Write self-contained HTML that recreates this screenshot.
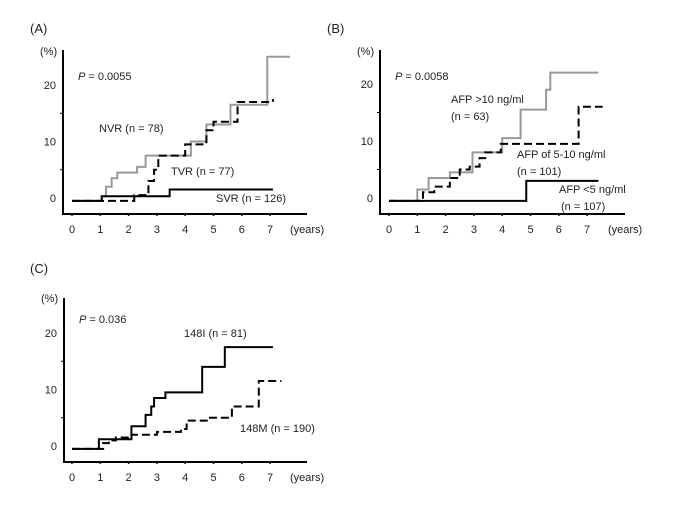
<!DOCTYPE html>
<html><head><meta charset="utf-8"><style>
body{margin:0;background:#fff}
svg{display:block;font-family:"Liberation Sans",sans-serif}
</style></head><body>
<svg id="chart" width="685" height="513" viewBox="0 0 685 513"></svg>
<script>
const yearTicks=[0,1,2,3,4,5,6,7];
const pctTicks=[0,10,20];
// Panel A
const nvrT=[0,1.05,1.2,1.4,1.6,2.3,2.6,4.2,4.75,5.6,6.9,7.7];
const nvrV=[-0.5,0.3,2,3.5,4.5,5.5,7.5,10,13,16.5,25,25];
const tvrT=[0,2.2,2.7,2.9,3.05,4.0,4.75,5.0,5.85,7.1];
const tvrV=[-0.5,0.5,3,5,7.5,9.5,12,13.5,17,17.5];
const svrT=[0,1.05,3.45,7.1];
const svrV=[-0.5,0.3,1.5,1.5];
// Panel B
const hiT=[0,1.0,1.4,2.15,2.95,4.0,4.65,5.55,5.7,7.4];
const hiV=[-0.5,1.5,3.5,4.5,8,10.5,15.5,19,22,22];
const midT=[0,1.2,1.6,2.15,2.5,2.85,3.2,3.4,3.95,6.7,7.55];
const midV=[-0.5,1,2,3.5,5,5.5,7,8,9.5,16,16];
const loT=[0,4.85,7.4];
const loV=[-0.5,3,3];
// Panel C
const iT=[0,0.95,2.1,2.6,2.8,2.9,3.3,4.6,5.4,7.1];
const iV=[-0.5,1.2,3.5,5.5,7,8.5,9.5,14,17.5,17.5];
const mT=[0,1.1,1.3,1.55,2.1,3.0,3.85,4.05,4.8,5.65,6.6,7.4];
const mV=[-0.5,0.5,1,1.5,2,2.5,3,4.5,5,7,11.5,11.5];

const svg=document.getElementById('chart');
const NS='http://www.w3.org/2000/svg';
function mk(tag,attrs,parent){const e=document.createElementNS(NS,tag);for(const k in attrs)e.setAttribute(k,attrs[k]);(parent||svg).appendChild(e);return e;}
function txt(x,y,s,name,parent,anchor,size){const t=mk('text',{x:x,y:y,'font-size':size||11,fill:'#222','text-anchor':anchor||'start'},parent);t.textContent=s;


return t;}

function panel(P){
  const g=mk('g',{});
  
  
  const X=v=>P.x0+v*28.3, Y=v=>P.y0-v*P.ys;
  const ya=mk('line',{x1:P.ax,y1:P.top,x2:P.ax,y2:P.bot,stroke:'#000','stroke-width':2},g);
  
  
  const xa=mk('line',{x1:P.ax-1,y1:P.bot,x2:P.right,y2:P.bot,stroke:'#000','stroke-width':2},g);
  
  
  yearTicks.forEach(t=>{
    mk('line',{x1:X(t),y1:P.bot,x2:X(t),y2:P.bot+2,stroke:'#000','stroke-width':1.5},g);
    txt(X(t),P.bot+19,String(t),'x-tick-label',g,'middle');
  });
  txt(P.right-17,P.bot+19,'(years)','x-axis-unit',g);
  pctTicks.forEach(t=>{
    txt(P.ax-7,Y(t)+4,String(t),'y-tick-label',g,'end');
  });
  [5,15].forEach(t=>mk('line',{x1:P.ax-3,y1:Y(t),x2:P.ax,y2:Y(t),stroke:'#000','stroke-width':1},g));
  txt(P.ax-23,P.top+P.uo,'(%)','y-axis-unit',g);
  txt(P.lx,P.ly,P.label,'panel-label',g,'start',13);
  const pt=mk('text',{x:P.ax+15,y:P.top+P.po,'font-size':11,fill:'#222'},g);
  pt.innerHTML='<tspan font-style="italic">P</tspan> = '+P.p;
  
  
  P.series.forEach(s=>{
    let d='M'+X(s.t[0])+','+Y(s.v[0]);
    for(let i=1;i<s.t.length;i++){d+=' H'+X(s.t[i])+' V'+Y(s.v[i]);}
    const path=mk('path',{d:d,fill:'none',stroke:s.c,'stroke-width':2,'stroke-dasharray':s.dash||'none'},g);
    
    
  });
  P.notes.forEach(n=>txt(n[0],n[1],n[2],n[3],g));
}
panel({name:'panel-a',label:'(A)',lx:30,ly:33,uo:5,po:30,p:'0.0055',ax:63,x0:72,y0:198,ys:5.65,top:50,bot:214,right:307,
 series:[{t:nvrT,v:nvrV,c:'#999',name:'nvr-curve'},{t:svrT,v:svrV,c:'#000',name:'svr-curve'},{t:tvrT,v:tvrV,c:'#000',dash:'8,4',name:'tvr-curve'}],
 notes:[[99,132,'NVR (n = 78)','nvr-label'],[171,175,'TVR (n = 77)','tvr-label'],[216,202,'SVR (n = 126)','svr-label']]});
panel({name:'panel-b',label:'(B)',lx:327,ly:33,uo:5,po:30,p:'0.0058',ax:380,x0:389,y0:198,ys:5.7,top:50,bot:214,right:625,
 series:[{t:hiT,v:hiV,c:'#999',name:'afp-high-curve'},{t:loT,v:loV,c:'#000',name:'afp-low-curve'},{t:midT,v:midV,c:'#000',dash:'8,4',name:'afp-mid-curve'}],
 notes:[[451,103,'AFP >10 ng/ml','afp-high-label'],[451,120,'(n = 63)','afp-high-n'],[517,158,'AFP of 5-10 ng/ml','afp-mid-label'],[517,175,'(n = 101)','afp-mid-n'],[559,193,'AFP <5 ng/ml','afp-low-label'],[561,210,'(n = 107)','afp-low-n']]});
panel({name:'panel-c',label:'(C)',lx:30,ly:273,uo:4,po:25,p:'0.036',ax:64,x0:72,y0:446,ys:5.65,top:298,bot:462,right:307,
 series:[{t:iT,v:iV,c:'#000',name:'148i-curve'},{t:mT,v:mV,c:'#000',dash:'8,4',name:'148m-curve'}]
 ,notes:[[184,337,'148I (n = 81)','148i-label'],[240,432,'148M (n = 190)','148m-label']]});
</script>
</body></html>
